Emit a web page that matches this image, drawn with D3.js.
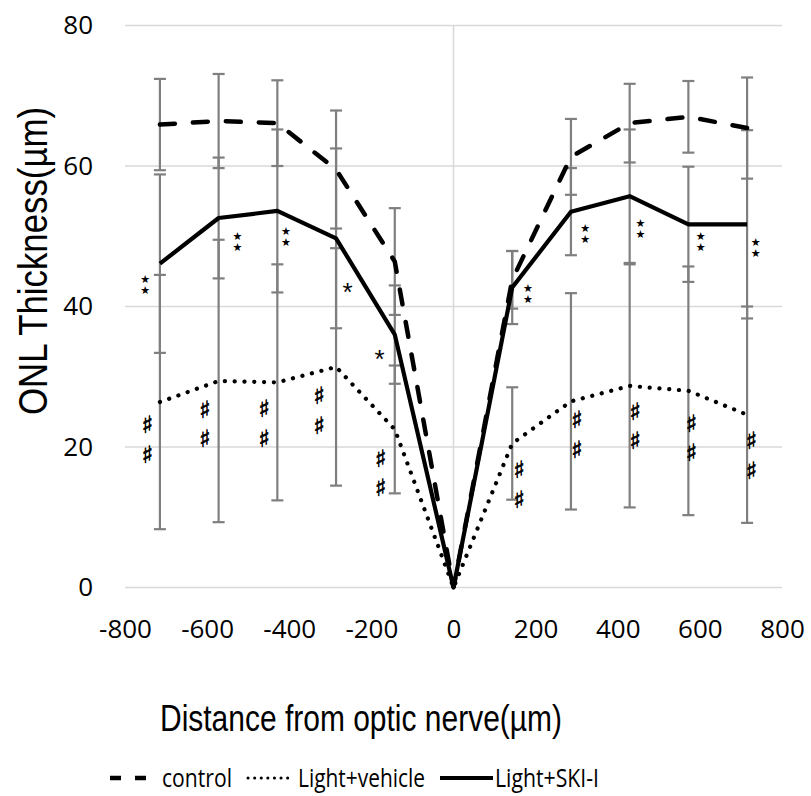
<!DOCTYPE html>
<html>
<head>
<meta charset="utf-8">
<script src="https://cdn.jsdelivr.net/npm/d3@7"></script>
<style>
body{margin:0;background:#fff}
</style>
</head>
<body>
<div class="mainView"></div>
<script>
// distance from optic nerve (um)
const distances = [-715,-572,-429,-286,-143,0,143,286,429,572,715];
// ONL thickness means and SD for each group
const controlMean = [65.9,66.4,66.1,59.5,46.4,0,43.8,61.3,66.1,67.0,65.4];
const controlSD   = [6.5,6.7,6.1,8.4,7.6,0,4.1,5.4,5.6,5.1,7.2];
const vehicleMean = [26.4,29.4,29.2,31.4,22.5,0,20.5,26.5,28.7,28.0,24.6];
const vehicleSD   = [18.1,20.1,16.8,16.9,9.1,0,8.0,15.4,17.3,17.7,15.4];
const skiMean     = [46.1,52.6,53.6,49.7,36.0,0,42.7,53.5,55.7,51.7,51.7];
const skiSD       = [12.7,8.6,11.6,12.8,7.0,0,5.2,6.2,9.5,8.2,13.4];

const seriesNames = ["control","Light+vehicle","Light+SKI-I"];
const xTicks = [-800,-600,-400,-200,0,200,400,600,800];
const yTicks = [0,20,40,60,80];

// significance marks [distance, thickness]
const starPairs = [[-751,43.2],[-526,49.3],[-408,50.1],[181,41.9],[321,50.4],[455,51.2],[602,49.3],[736,48.5]];
const singleStars = [[-258,42.4],[-180,32.8]];
const hashPairs = [[-745,20.9],[-605,23.1],[-461,23.2],[-327,25.0],[-177,16.1],[160,14.5],[301,21.6],[443,22.8],[580,21.1],[726,18.6]];

function chartConfiguration(){
    let width = 811;
    let height = 796;
    let margin = {top: 25.5, left: 125, right: 29, bottom: 208.5};
    let bodyWidth = width - margin.left - margin.right;
    let bodyHeight = height - margin.top - margin.bottom;
    let svg = d3.select(".mainView")
                .append("svg")
                .attr("width", width)
                .attr("height", height)
                .style("display", "block");
    let container = svg.append("g")
                .attr("transform", "translate("+[margin.left, margin.top]+")");
    return {width, height, margin, bodyWidth, bodyHeight, svg, container};
}

function chartScales(config){
    let {bodyWidth, bodyHeight} = config;
    let xScale = d3.scaleLinear()
        .domain([-800, 800])
        .range([0, bodyWidth]);
    let yScale = d3.scaleLinear()
        .domain([0, 80])
        .range([bodyHeight, 0]);
    return {xScale, yScale};
}

function chartAxes(scales, config){
    let {xScale, yScale} = scales;
    let {container, bodyWidth, bodyHeight} = config;

    yTicks.forEach(t => {
        container.append("line")
            .attr("x1", 0).attr("x2", bodyWidth)
            .attr("y1", yScale(t)).attr("y2", yScale(t))
            .style("stroke", "#d9d9d9")
            .style("stroke-width", 1.6);
    });
    container.append("line")
        .attr("x1", xScale(0)).attr("x2", xScale(0))
        .attr("y1", 0).attr("y2", bodyHeight)
        .style("stroke", "#d9d9d9")
        .style("stroke-width", 1.6);

    let axisY = d3.axisLeft(yScale).tickValues(yTicks).tickSize(0).tickPadding(32);
    let gy = container.append("g").call(axisY);
    gy.select(".domain").remove();

    let axisX = d3.axisBottom(xScale).tickValues(xTicks).tickSize(0).tickPadding(32)
                .tickFormat(d => String(d));
    let gx = container.append("g")
        .attr("transform", "translate(0,"+bodyHeight+")")
        .call(axisX);
    gx.select(".domain").remove();

    container.selectAll(".tick text")
        .style("font-family", "'Open Sans', sans-serif")
        .style("font-size", "26px")
        .style("fill", "#000");
}

function errorBars(scales, config){
    let {xScale, yScale} = scales;
    let {container} = config;
    let groups = [[controlMean, controlSD],[vehicleMean, vehicleSD],[skiMean, skiSD]];
    let g = container.append("g");
    groups.forEach(([means, sds]) => {
        distances.forEach((d, i) => {
            if(sds[i] <= 0) return;
            let x = xScale(d);
            let y1 = yScale(means[i] + sds[i]);
            let y2 = yScale(means[i] - sds[i]);
            g.append("line")
                .attr("x1", x).attr("x2", x)
                .attr("y1", y1).attr("y2", y2)
                .style("stroke", "#7f7f7f").style("stroke-width", 2.2);
            [y1, y2].forEach(y => {
                g.append("line")
                    .attr("x1", x-6).attr("x2", x+6)
                    .attr("y1", y).attr("y2", y)
                    .style("stroke", "#7f7f7f").style("stroke-width", 2.2);
            });
        });
    });
}

function seriesLines(scales, config){
    let {xScale, yScale} = scales;
    let {container} = config;
    let line = d3.line()
        .x(d => xScale(d[0]))
        .y(d => yScale(d[1]));
    let zip = means => distances.map((d, i) => [d, means[i]]);

    container.append("path")
        .attr("d", line(zip(vehicleMean)))
        .style("fill", "none").style("stroke", "#000")
        .style("stroke-width", 4.2)
        .style("stroke-linecap", "round")
        .style("stroke-dasharray", "0.1,9.7");
    container.append("path")
        .attr("d", line(zip(controlMean)))
        .style("fill", "none").style("stroke", "#000")
        .style("stroke-width", 4.5)
        .style("stroke-linecap", "round")
        .style("stroke-dasharray", "15,18");
    container.append("path")
        .attr("d", line(zip(skiMean)))
        .style("fill", "none").style("stroke", "#000")
        .style("stroke-width", 4.2)
        .style("stroke-linejoin", "round");
}

// two copies of a symbol stacked vertically in one text element
function stacked(g, x, y, symbol, size, gap, family, outline){
    g.append("text")
        .attr("x", x)
        .attr("y", y)
        .attr("text-anchor", "middle")
        .style("writing-mode", "vertical-rl")
        .style("text-orientation", "upright")
        .style("letter-spacing", (gap - size) + "px")
        .style("font-family", family)
        .style("font-size", size + "px")
        .style("fill", "#000")
        .style("stroke", "#000")
        .style("stroke-width", outline)
        .text(symbol + symbol);
}

function marks(scales, config){
    let {xScale, yScale} = scales;
    let {container} = config;
    let g = container.append("g");
    starPairs.forEach(p => {
        stacked(g, xScale(p[0]), yScale(p[1]), "\u2605", 11, 9, "'DejaVu Sans', sans-serif", 0);
    });
    singleStars.forEach(p => {
        g.append("text")
            .attr("x", xScale(p[0]))
            .attr("y", yScale(p[1]) + 11)
            .attr("text-anchor", "middle")
            .style("font-family", "'Liberation Sans', sans-serif")
            .style("font-size", "26px")
            .text("*");
    });
    hashPairs.forEach(p => {
        stacked(g, xScale(p[0]), yScale(p[1]), "\u266F", 24, 25.6, "'DejaVu Sans', sans-serif", 0.6);
    });
}

function titles(config){
    let {svg} = config;
    svg.append("text")
        .attr("transform", "translate(47,261) rotate(-90)")
        .attr("text-anchor", "middle")
        .attr("textLength", 308)
        .attr("lengthAdjust", "spacingAndGlyphs")
        .style("font-family", "'Liberation Sans', sans-serif")
        .style("font-size", "40px")
        .text("ONL Thickness(\u00B5m)");
    svg.append("text")
        .attr("x", 160)
        .attr("y", 731)
        .attr("textLength", 402)
        .attr("lengthAdjust", "spacingAndGlyphs")
        .style("font-family", "'Liberation Sans', sans-serif")
        .style("font-size", "36px")
        .text("Distance from optic nerve(\u00B5m)");
}

function legend(config){
    let {svg} = config;
    let lg = svg.append("g").attr("transform", "translate(0,778)");
    let items = [
        {x1: 110, x2: 150, tx: 162, tw: 70, dash: "11,14", w: 4.5, cap: "butt"},
        {x1: 248, x2: 292, tx: 298, tw: 127, dash: "0.1,6.5", w: 3, cap: "round"},
        {x1: 440, x2: 493, tx: 495, tw: 104, dash: null, w: 4, cap: "butt"}
    ];
    items.forEach((it, i) => {
        lg.append("line")
            .attr("x1", it.x1).attr("x2", it.x2)
            .attr("y1", 0).attr("y2", 0)
            .style("stroke", "#000")
            .style("stroke-width", it.w)
            .style("stroke-linecap", it.cap)
            .style("stroke-dasharray", it.dash);
        lg.append("text")
            .attr("x", it.tx)
            .attr("y", 9)
            .attr("textLength", it.tw)
            .attr("lengthAdjust", "spacingAndGlyphs")
            .style("font-family", "'Open Sans', sans-serif")
            .style("font-size", "26px")
            .text(seriesNames[i]);
    });
}

function display(){
    let config = chartConfiguration();
    let scales = chartScales(config);
    chartAxes(scales, config);
    errorBars(scales, config);
    seriesLines(scales, config);
    marks(scales, config);
    titles(config);
    legend(config);
}

display();
</script>
</body>
</html>
